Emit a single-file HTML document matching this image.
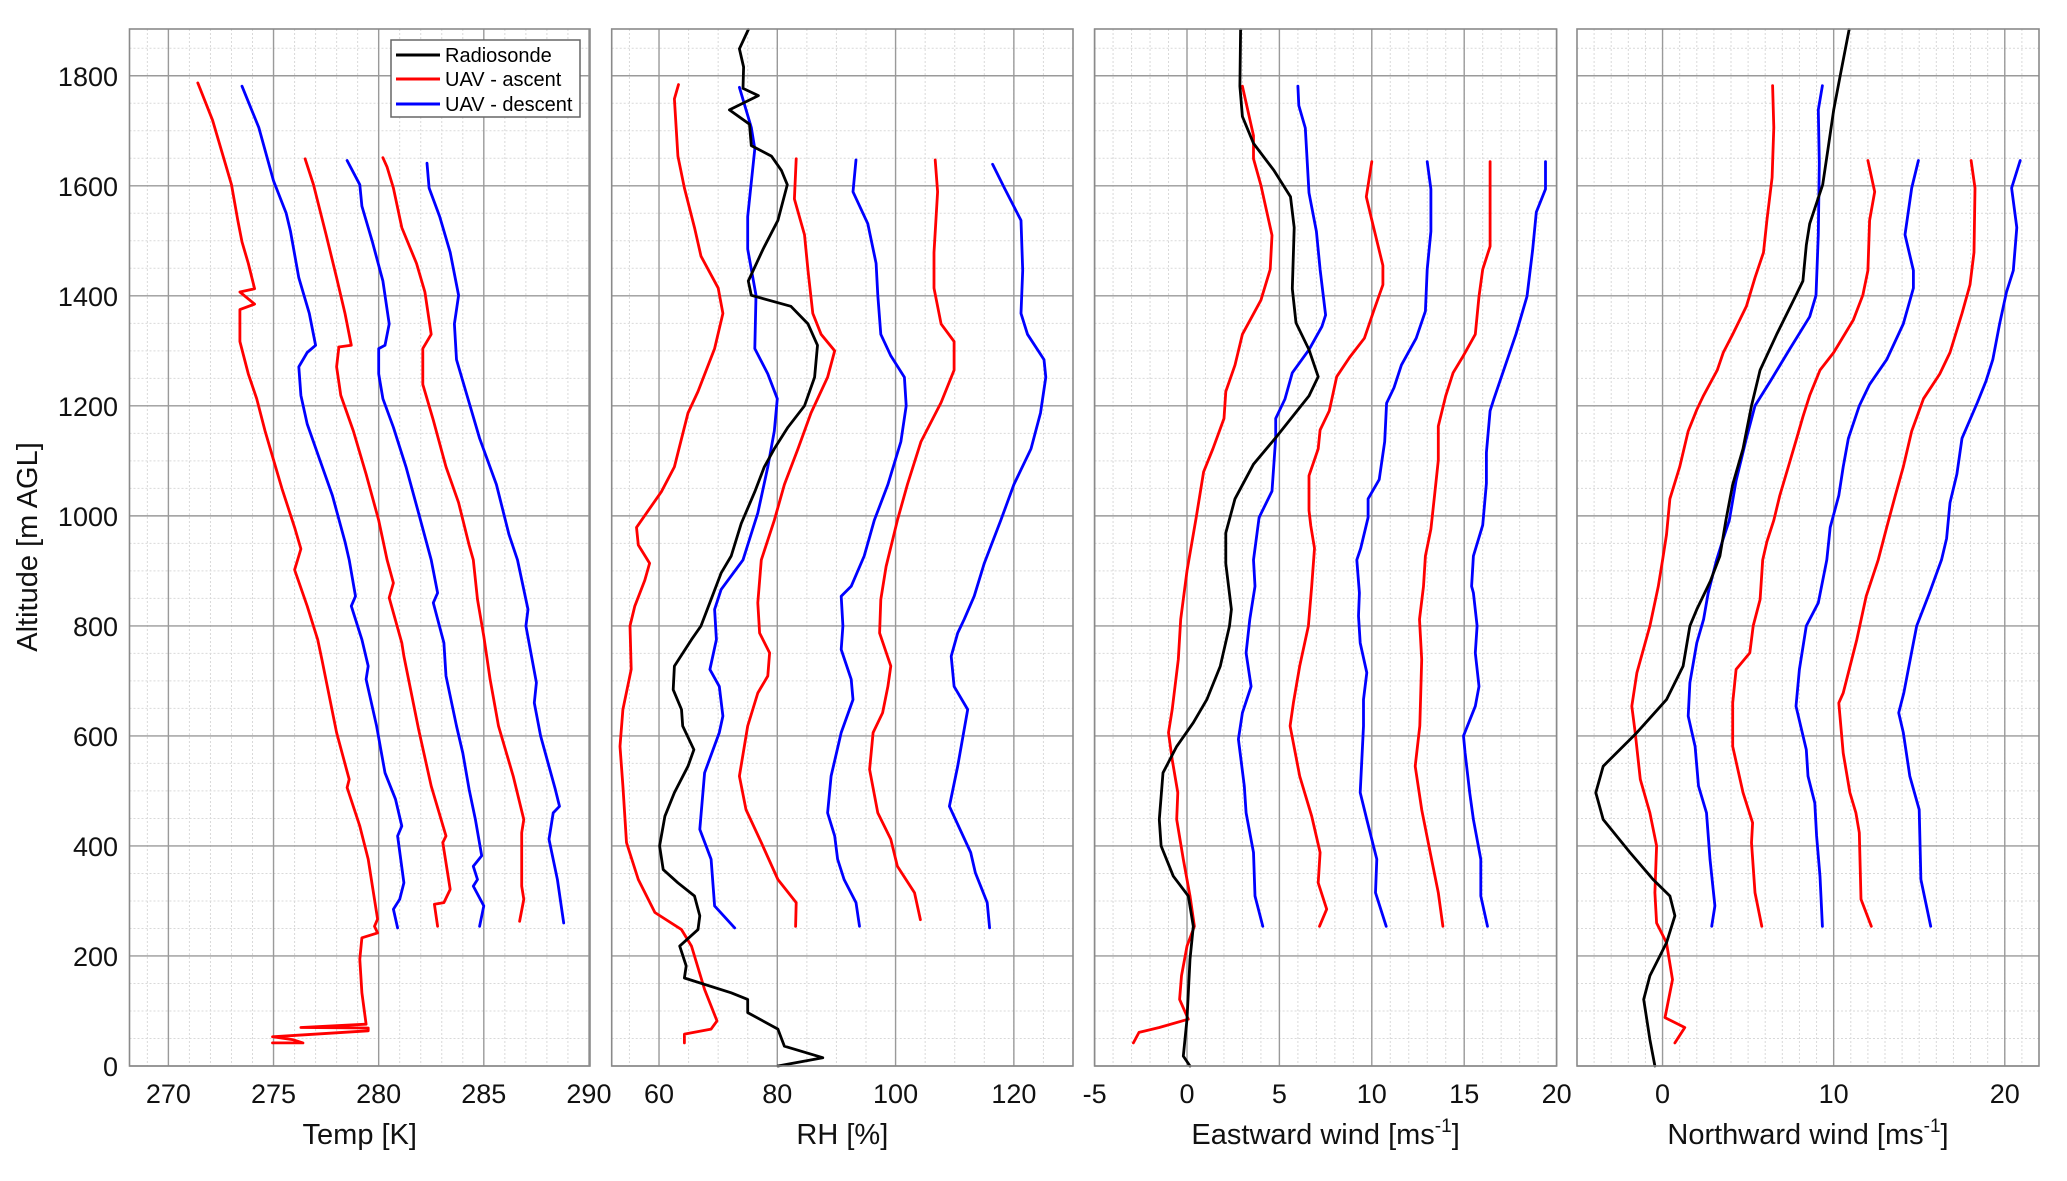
<!DOCTYPE html>
<html><head><meta charset="utf-8"><title>Profiles</title>
<style>
html,body{margin:0;padding:0;background:#fff;}
svg{display:block;font-family:"Liberation Sans",Arial,sans-serif;}
</style></head>
<body>
<svg id="fig" width="2067" height="1181" viewBox="0 0 2067 1181" xmlns="http://www.w3.org/2000/svg">
<rect width="2067" height="1181" fill="#fff"/>
<g id="grids"></g>
<g id="series"></g>
<g id="frames"></g>
<g id="labels"></g>
<text x="37" y="547" font-size="29" fill="#111" text-anchor="middle" transform="rotate(-90 37 547)">Altitude [m AGL]</text>
<g>
<rect x="391" y="40" width="189" height="77" fill="#fff" stroke="#666" stroke-width="1.5"/>
<line x1="396" y1="55" x2="440" y2="55" stroke="#000" stroke-width="3"/>
<text x="445" y="62" font-size="20" fill="#000">Radiosonde</text>
<line x1="396" y1="79" x2="440" y2="79" stroke="#f00" stroke-width="3"/>
<text x="445" y="86" font-size="20" fill="#000">UAV - ascent</text>
<line x1="396" y1="104" x2="440" y2="104" stroke="#00f" stroke-width="3"/>
<text x="445" y="111" font-size="20" fill="#000">UAV - descent</text>
</g>
</svg>
<script>
// ---------- axis tick values ----------
const altTicks = [0,200,400,600,800,1000,1200,1400,1600,1800];
const tempTicks = [270,275,280,285,290];
const rhTicks = [60,80,100,120];
const eastTicks = [-5,0,5,10,15,20];
const northTicks = [0,10,20];

// ---------- Temperature [K] ----------
const tempAscAlt1 = [42,42,48,53,64,69,70,76,133,194,233,242,254,267,327,376,436,506,521,606,739,775,836,902,927,940,979,1050,1102,1154,1213,1258,1317,1375,1385,1407,1413,1459,1498,1537,1602,1641,1719,1787];
const tempAscVal1 = [274.95,276.4,275.9,274.95,279.5,279.5,276.3,279.4,279.2,279.1,279.2,279.95,279.8,279.95,279.7,279.5,279.1,278.5,278.6,278.0,277.3,277.1,276.6,276.0,276.2,276.3,276.0,275.4,275.0,274.6,274.2,273.8,273.4,273.4,274.1,273.4,274.1,273.8,273.5,273.3,273.0,272.7,272.1,271.4];
const tempDesAlt1 = [251,285,303,333,418,436,485,533,618,703,727,775,836,854,920,953,1037,1102,1167,1219,1271,1297,1310,1368,1433,1518,1550,1609,1706,1781];
const tempDesVal1 = [280.9,280.7,281.0,281.2,280.9,281.1,280.8,280.3,279.9,279.4,279.5,279.2,278.7,278.9,278.6,278.4,277.8,277.2,276.6,276.3,276.2,276.6,277.0,276.7,276.2,275.8,275.6,275.0,274.3,273.5];
const tempAscAlt2 = [254,294,297,321,406,418,509,612,745,769,851,878,920,992,1076,1154,1219,1271,1304,1307,1310,1368,1433,1511,1602,1649];
const tempAscVal2 = [282.8,282.65,283.1,283.4,283.05,283.2,282.5,281.9,281.2,281.1,280.5,280.7,280.4,280.0,279.4,278.8,278.2,278.0,278.1,278.1,278.7,278.4,278.0,277.5,276.9,276.5];
const tempDesAlt2 = [254,291,327,339,363,382,448,503,569,618,709,769,842,860,920,1005,1089,1161,1213,1258,1304,1310,1349,1427,1498,1563,1602,1646];
const tempDesVal2 = [284.8,285.0,284.5,284.7,284.5,284.9,284.6,284.3,284.0,283.7,283.2,283.1,282.6,282.8,282.5,281.9,281.3,280.7,280.2,280.0,280.0,280.3,280.5,280.2,279.7,279.2,279.1,278.5];
const tempAscAlt3 = [263,303,327,424,448,527,618,703,781,848,920,947,1024,1089,1174,1239,1304,1330,1407,1459,1524,1596,1634,1651];
const tempAscVal3 = [286.7,286.9,286.8,286.8,286.9,286.4,285.7,285.3,285.0,284.7,284.5,284.3,283.8,283.2,282.6,282.1,282.1,282.5,282.2,281.8,281.1,280.7,280.4,280.2];
const tempDesAlt3 = [260,339,412,460,472,503,600,660,697,800,830,920,966,1057,1141,1219,1284,1349,1401,1479,1544,1596,1641];
const tempDesVal3 = [288.8,288.5,288.1,288.3,288.6,288.4,287.7,287.4,287.5,287.0,287.1,286.6,286.2,285.6,284.8,284.2,283.7,283.6,283.8,283.4,282.9,282.4,282.3];

// ---------- Relative humidity [%] ----------
const rhSondeAlt = [0,15,36,67,97,121,133,160,182,218,248,273,309,333,357,400,454,497,545,575,618,648,684,727,775,800,896,927,986,1044,1089,1122,1161,1200,1252,1310,1349,1381,1401,1427,1485,1537,1602,1628,1654,1673,1712,1738,1764,1777,1816,1849,1884];
const rhSondeVal = [80.1,87.7,81.2,80.1,75.0,75.0,72.2,64.3,64.6,63.5,66.6,66.9,66.0,63.2,60.7,60.1,61.0,62.6,64.9,65.9,64.0,63.8,62.4,62.6,65.5,67.1,70.5,72.2,73.9,76.2,77.8,79.5,81.8,84.6,86.3,86.8,85.2,82.3,75.6,75.1,77.6,80.1,81.7,80.7,79.0,75.6,75.3,71.9,76.8,74.2,74.3,73.6,75.1];
const rhAscAlt1 = [42,58,67,82,139,218,248,279,339,406,509,581,648,721,800,836,883,914,947,979,1044,1089,1187,1226,1304,1368,1414,1472,1524,1596,1654,1758,1784];
const rhAscVal1 = [64.3,64.3,68.8,69.8,67.7,65.5,63.8,59.3,56.5,54.5,53.9,53.4,53.9,55.3,55.1,55.9,57.6,58.4,56.5,56.2,60.4,62.6,64.9,66.6,69.4,70.8,70.0,67.1,66.0,64.3,63.2,62.6,63.3];
const rhDesAlt1 = [251,291,376,430,533,606,636,690,721,775,830,866,920,947,1005,1089,1154,1213,1258,1304,1401,1485,1544,1667,1706,1779];
const rhDesVal1 = [72.8,69.4,68.8,66.9,67.7,70.2,70.8,70.2,68.6,69.7,69.4,70.5,74.2,75.0,76.7,78.4,79.5,80.0,78.4,76.2,76.4,75.0,75.0,76.2,75.6,73.6];
const rhAscAlt2 = [254,297,339,406,466,527,618,678,709,751,787,842,920,992,1057,1122,1187,1252,1300,1330,1368,1446,1511,1576,1649];
const rhAscVal2 = [83.1,83.2,80.1,77.3,74.7,73.6,75.0,76.7,78.4,78.7,77.0,76.7,77.3,79.5,81.2,83.5,85.7,88.5,89.7,87.4,86.0,85.2,84.6,82.9,83.2];
const rhDesAlt2 = [254,297,339,376,418,460,527,606,666,703,757,800,854,872,927,992,1057,1135,1200,1252,1291,1330,1401,1459,1531,1589,1647];
const rhDesVal2 = [93.9,93.3,91.3,90.2,89.7,88.5,89.1,90.8,92.8,92.5,90.8,91.1,90.8,92.5,94.7,96.4,98.7,100.9,101.8,101.5,99.2,97.5,97.0,96.7,95.3,92.8,93.3];
const rhAscAlt3 = [266,315,363,412,460,539,606,642,690,727,787,848,908,992,1057,1135,1206,1265,1317,1349,1414,1479,1589,1647];
const rhAscVal3 = [104.2,103.2,100.3,99.2,97.0,95.6,96.2,97.8,98.7,99.2,97.3,97.5,98.4,100.3,102.0,104.3,107.7,109.9,109.9,107.7,106.5,106.5,107.1,106.7];
const rhDesAlt3 = [251,297,351,388,472,545,648,690,745,787,812,854,914,992,1057,1122,1187,1252,1284,1330,1368,1446,1537,1596,1639];
const rhDesVal3 = [115.9,115.5,113.5,112.7,109.1,110.5,112.2,109.9,109.4,110.5,111.6,113.3,115.0,117.8,120.0,122.9,124.5,125.4,125.1,122.3,121.2,121.5,121.2,118.4,116.4];

// ---------- Eastward wind [m/s] ----------
const eastSondeAlt = [0,18,85,194,254,309,345,400,448,533,581,624,666,727,800,830,913,969,1031,1094,1142,1218,1253,1302,1351,1413,1524,1580,1628,1677,1726,1781,1884];
const eastSondeVal = [0.16,-0.2,0,0.16,0.34,0.07,-0.74,-1.4,-1.5,-1.3,-0.56,0.34,1.07,1.8,2.3,2.4,2.1,2.1,2.6,3.6,4.8,6.6,7.1,6.6,5.9,5.7,5.8,5.6,4.7,3.6,3.0,2.86,2.9];
const eastAscAlt1 = [42,61,70,85,121,164,218,254,309,376,448,497,557,606,648,739,812,900,997,1080,1122,1177,1226,1274,1330,1392,1448,1510,1601,1649,1691,1781];
const eastAscVal1 = [-2.9,-2.6,-1.5,0.07,-0.4,-0.3,0,0.4,0.16,-0.2,-0.56,-0.5,-0.8,-1.0,-0.8,-0.47,-0.34,0.0,0.5,0.9,1.4,2.0,2.1,2.6,3.0,4.0,4.5,4.6,4.0,3.6,3.6,3.0];
const eastDesAlt1 = [254,309,388,460,509,594,642,690,751,812,872,920,997,1045,1142,1177,1212,1260,1302,1344,1365,1448,1517,1587,1705,1746,1781];
const eastDesVal1 = [4.1,3.68,3.6,3.2,3.1,2.78,3.0,3.47,3.2,3.4,3.68,3.6,3.9,4.6,4.8,4.8,5.3,5.7,6.6,7.3,7.5,7.2,7.0,6.6,6.4,6.05,6.0];
const eastAscAlt2 = [254,285,333,388,454,527,618,660,727,800,872,941,982,1010,1073,1122,1156,1191,1253,1288,1323,1372,1420,1455,1538,1580,1644];
const eastAscVal2 = [7.17,7.56,7.1,7.2,6.75,6.1,5.58,5.76,6.1,6.57,6.75,6.9,6.7,6.6,6.6,7.1,7.2,7.7,8.1,8.8,9.6,10.1,10.6,10.6,10.0,9.7,10.0];
const eastDesAlt2 = [254,315,376,448,497,618,666,715,769,818,860,920,941,997,1031,1066,1135,1205,1233,1274,1323,1372,1448,1517,1594,1644];
const eastDesVal2 = [10.78,10.2,10.27,9.73,9.37,9.55,9.55,9.73,9.37,9.28,9.33,9.19,9.4,9.8,9.8,10.4,10.7,10.8,11.2,11.6,12.4,12.9,13.0,13.2,13.2,13.0];
const eastAscAlt3 = [254,315,388,466,545,618,739,812,872,927,976,1038,1101,1163,1218,1260,1288,1330,1399,1448,1490,1587,1644];
const eastAscVal3 = [13.85,13.6,13.16,12.7,12.35,12.6,12.7,12.58,12.8,12.9,13.2,13.4,13.6,13.6,14.0,14.4,14.9,15.6,15.8,16.0,16.4,16.4,16.4];
const eastDesAlt3 = [254,309,376,448,497,569,600,654,690,751,800,860,872,927,983,1059,1115,1191,1212,1281,1330,1399,1483,1552,1594,1644];
const eastDesVal3 = [16.26,15.9,15.9,15.5,15.3,15.05,14.96,15.6,15.8,15.6,15.7,15.5,15.4,15.5,16.0,16.2,16.2,16.4,16.6,17.3,17.8,18.4,18.7,18.9,19.4,19.4];

// ---------- Northward wind [m/s] ----------
const northSondeAlt = [0,48,121,164,224,273,309,339,388,448,497,545,606,666,727,800,830,882,927,992,1057,1122,1200,1265,1330,1401,1427,1492,1531,1602,1673,1738,1803,1884];
const northSondeVal = [-0.45,-0.74,-1.1,-0.74,0.23,0.72,0.43,-0.55,-1.9,-3.47,-3.9,-3.47,-1.5,0.23,1.2,1.6,2.0,2.8,3.35,3.7,4.1,4.7,5.2,5.7,6.67,7.8,8.2,8.4,8.6,9.36,9.7,10.0,10.4,10.9];
const northAscAlt1 = [42,70,88,133,157,224,260,315,400,460,521,606,654,715,800,872,920,966,1031,1089,1154,1193,1219,1265,1297,1330,1381,1433,1479,1537,1615,1706,1782];
const northAscVal1 = [0.72,1.3,0.14,0.43,0.58,0.23,-0.35,-0.45,-0.35,-0.74,-1.3,-1.6,-1.8,-1.5,-0.74,-0.25,0.0,0.23,0.43,1.0,1.5,2.0,2.4,3.2,3.55,4.1,4.9,5.4,5.9,6.1,6.4,6.5,6.43];
const northDesAlt1 = [254,291,376,460,509,581,636,697,769,812,860,920,959,992,1064,1141,1200,1245,1304,1362,1401,1511,1641,1738,1782];
const northDesVal1 = [2.87,3.06,2.77,2.57,2.1,1.9,1.5,1.6,2.0,2.4,2.67,3.16,3.55,3.9,4.3,4.9,5.4,6.3,7.45,8.6,8.97,9.1,9.16,9.1,9.34];
const northAscAlt2 = [254,315,406,442,497,581,660,721,751,800,848,920,953,992,1037,1089,1141,1180,1219,1265,1297,1356,1401,1446,1537,1589,1646];
const northAscVal2 = [5.8,5.4,5.2,5.26,4.7,4.1,4.1,4.3,5.1,5.3,5.7,5.85,6.1,6.5,6.85,7.35,7.84,8.2,8.6,9.2,10.0,11.15,11.7,12.0,12.1,12.4,12.0];
const northDesAlt2 = [254,345,418,478,527,575,654,721,800,842,920,979,1037,1089,1141,1200,1239,1284,1349,1414,1446,1511,1596,1646];
const northDesVal2 = [9.34,9.2,9.0,8.9,8.5,8.4,7.8,8.0,8.4,9.1,9.6,9.8,10.3,10.56,10.86,11.5,12.1,13.1,14.07,14.66,14.66,14.17,14.56,14.95];
const northAscAlt3 = [254,303,424,460,497,569,660,678,775,854,920,979,1037,1089,1154,1213,1258,1297,1368,1420,1479,1596,1646];
const northAscVal3 = [12.2,11.6,11.5,11.3,10.95,10.56,10.3,10.56,11.35,11.9,12.6,13.1,13.6,14.07,14.56,15.25,16.2,16.8,17.5,17.97,18.2,18.26,18.03];
const northDesAlt3 = [254,339,466,527,606,642,678,769,800,860,920,959,1024,1076,1141,1206,1245,1284,1349,1407,1446,1524,1596,1646];
const northDesVal3 = [15.67,15.1,15.0,14.45,14.07,13.8,14.1,14.66,14.85,15.6,16.3,16.6,16.8,17.2,17.5,18.4,18.9,19.3,19.7,20.1,20.5,20.7,20.4,20.9];

// ---------- layout ----------
const NS = 'http://www.w3.org/2000/svg';
const TOP = 29, BOT = 1066, YMAX = 1885;
function yScale(a){ return BOT - (a / YMAX) * (BOT - TOP); }
const panels = [
  {key:'temp', x0:129.5, x1:590, lo:268.15, hi:290.05, major:tempTicks, minorStep:1, title:'Temp [K]'},
  {key:'rh', x0:611.7, x1:1073, lo:52, hi:130, major:rhTicks, minorStep:5, title:'RH [%]'},
  {key:'east', x0:1094.6, x1:1556.6, lo:-5, hi:20, major:eastTicks, minorStep:1, title:'Eastward wind [ms'},
  {key:'north', x0:1577, x1:2039, lo:-5, hi:22, major:northTicks, minorStep:1, title:'Northward wind [ms'}
];
function xScale(p, v){ return p.x0 + (v - p.lo) / (p.hi - p.lo) * (p.x1 - p.x0); }
function mk(tag, attrs, parent){
  const e = document.createElementNS(NS, tag);
  for (const k in attrs) e.setAttribute(k, attrs[k]);
  parent.appendChild(e);
  return e;
}
const gGrid = document.getElementById('grids');
const gSer = document.getElementById('series');
const gFr = document.getElementById('frames');
const gLab = document.getElementById('labels');

panels.forEach(function(p){
  // minor x grid
  const start = Math.ceil(p.lo / p.minorStep) * p.minorStep;
  for (let v = start; v <= p.hi; v += p.minorStep){
    const x = xScale(p, v);
    const l = mk('line', {x1:x, y1:TOP, x2:x, y2:BOT, stroke:'#d9d9d9', 'stroke-width':1, 'stroke-dasharray':'2,2'}, gGrid);
    
    
  }
  // minor y grid
  for (let a = 50; a < YMAX; a += 50){
    if (a % 200 === 0) continue;
    const y = yScale(a);
    const l = mk('line', {x1:p.x0, y1:y, x2:p.x1, y2:y, stroke:'#d9d9d9', 'stroke-width':1, 'stroke-dasharray':'2,2'}, gGrid);
    
    
  }
  // major grids
  p.major.forEach(function(v){
    const x = xScale(p, v);
    const l = mk('line', {x1:x, y1:TOP, x2:x, y2:BOT, stroke:'#9a9a9a', 'stroke-width':1.4}, gGrid);
    
    
    const t = mk('text', {x:x, y:1103, 'font-size':27, fill:'#111', 'text-anchor':'middle'}, gLab);
    t.textContent = String(v);
    
    
  });
  altTicks.forEach(function(a){
    const y = yScale(a);
    const l = mk('line', {x1:p.x0, y1:y, x2:p.x1, y2:y, stroke:'#9a9a9a', 'stroke-width':1.4}, gGrid);
    
    
  });
  const fr = mk('rect', {x:p.x0, y:TOP, width:p.x1 - p.x0, height:BOT - TOP, fill:'none', stroke:'#8a8a8a', 'stroke-width':1.6}, gFr);
  
  
  const cx = (p.x0 + p.x1) / 2;
  const tt = mk('text', {x:cx, y:1144, 'font-size':29, fill:'#111', 'text-anchor':'middle'}, gLab);
  
  
  if (p.key === 'east' || p.key === 'north'){
    const a = mk('tspan', {}, tt); a.textContent = p.title;
    const b = mk('tspan', {dy:-12, 'font-size':19}, tt); b.textContent = '-1';
    const c = mk('tspan', {dy:12}, tt); c.textContent = ']';
  } else {
    tt.textContent = p.title;
  }
});

altTicks.forEach(function(a){
  const t = mk('text', {x:118, y:yScale(a) + 10, 'font-size':27, fill:'#111', 'text-anchor':'end'}, gLab);
  t.textContent = String(a);
  
  
});

function drawSeries(pIdx, alts, vals, color, name){
  const p = panels[pIdx];
  let d = '';
  for (let i = 0; i < alts.length; i++){
    d += (i ? 'L' : 'M') + xScale(p, vals[i]).toFixed(1) + ',' + yScale(alts[i]).toFixed(1);
  }
  const path = mk('path', {d:d, fill:'none', stroke:color, 'stroke-width':2.8, 'stroke-linejoin':'round', 'stroke-linecap':'round'}, gSer);
  
  
}
const R = '#ff0000', B = '#0000ff', K = '#000000';
drawSeries(0, tempAscAlt1, tempAscVal1, R, 'temp-uav-ascent-1');
drawSeries(0, tempDesAlt1, tempDesVal1, B, 'temp-uav-descent-1');
drawSeries(0, tempAscAlt2, tempAscVal2, R, 'temp-uav-ascent-2');
drawSeries(0, tempDesAlt2, tempDesVal2, B, 'temp-uav-descent-2');
drawSeries(0, tempAscAlt3, tempAscVal3, R, 'temp-uav-ascent-3');
drawSeries(0, tempDesAlt3, tempDesVal3, B, 'temp-uav-descent-3');

drawSeries(1, rhAscAlt1, rhAscVal1, R, 'rh-uav-ascent-1');
drawSeries(1, rhDesAlt1, rhDesVal1, B, 'rh-uav-descent-1');
drawSeries(1, rhAscAlt2, rhAscVal2, R, 'rh-uav-ascent-2');
drawSeries(1, rhDesAlt2, rhDesVal2, B, 'rh-uav-descent-2');
drawSeries(1, rhAscAlt3, rhAscVal3, R, 'rh-uav-ascent-3');
drawSeries(1, rhDesAlt3, rhDesVal3, B, 'rh-uav-descent-3');
drawSeries(1, rhSondeAlt, rhSondeVal, K, 'rh-radiosonde');

drawSeries(2, eastAscAlt1, eastAscVal1, R, 'east-uav-ascent-1');
drawSeries(2, eastDesAlt1, eastDesVal1, B, 'east-uav-descent-1');
drawSeries(2, eastAscAlt2, eastAscVal2, R, 'east-uav-ascent-2');
drawSeries(2, eastDesAlt2, eastDesVal2, B, 'east-uav-descent-2');
drawSeries(2, eastAscAlt3, eastAscVal3, R, 'east-uav-ascent-3');
drawSeries(2, eastDesAlt3, eastDesVal3, B, 'east-uav-descent-3');
drawSeries(2, eastSondeAlt, eastSondeVal, K, 'east-radiosonde');

drawSeries(3, northAscAlt1, northAscVal1, R, 'north-uav-ascent-1');
drawSeries(3, northDesAlt1, northDesVal1, B, 'north-uav-descent-1');
drawSeries(3, northAscAlt2, northAscVal2, R, 'north-uav-ascent-2');
drawSeries(3, northDesAlt2, northDesVal2, B, 'north-uav-descent-2');
drawSeries(3, northAscAlt3, northAscVal3, R, 'north-uav-ascent-3');
drawSeries(3, northDesAlt3, northDesVal3, B, 'north-uav-descent-3');
drawSeries(3, northSondeAlt, northSondeVal, K, 'north-radiosonde');
</script>
</body></html>
